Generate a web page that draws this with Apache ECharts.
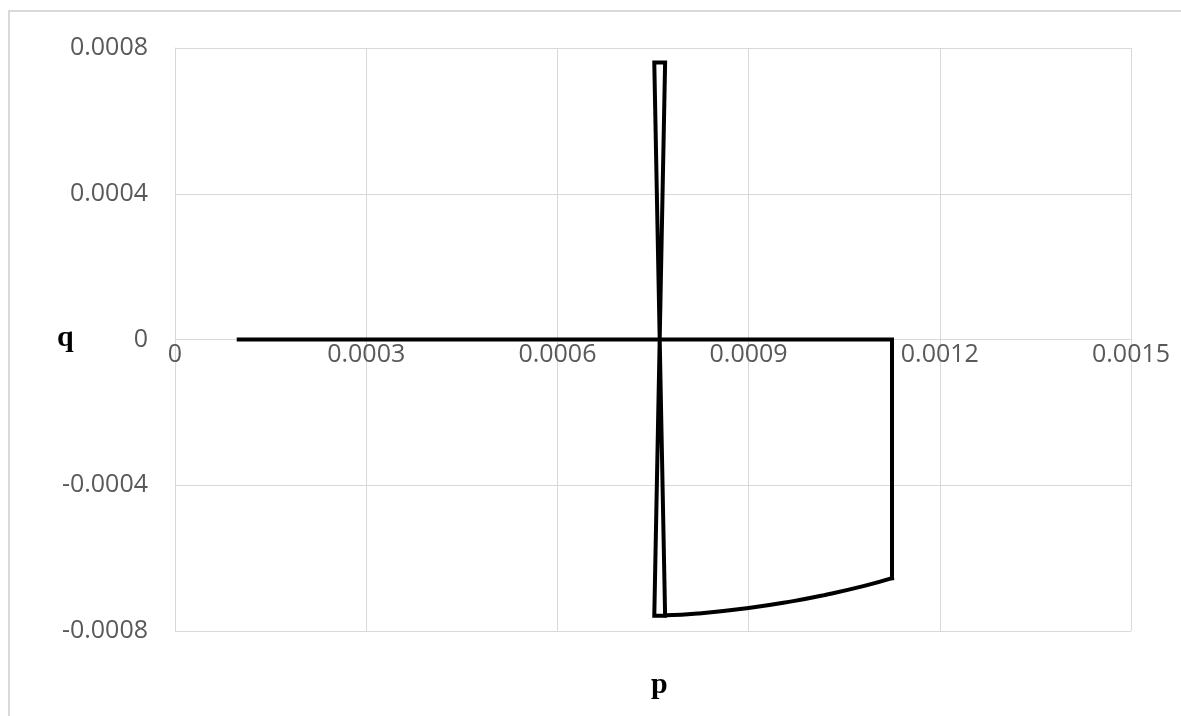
<!DOCTYPE html>
<html>
<head>
<meta charset="utf-8">
<script src="https://cdn.jsdelivr.net/npm/echarts@6/dist/echarts.min.js"></script>
<style>
  html, body { margin: 0; padding: 0; background: #ffffff; }
  #chart { width: 1181px; height: 716px; }
</style>
</head>
<body>
<div id="chart"></div>
<script>
// Horizontal branch and right edge of the (p, q) trajectory
const edgeP = [0.0001, 0.001125, 0.001125];
const edgeQ = [0, 0, -0.000655];
// Narrow crossed loop of the two near-vertical strokes
const loopP = [0.000769, 0.000752, 0.000769, 0.000752, 0.000769];
const loopQ = [-0.000757, 0.00076, 0.00076, -0.000758, -0.000758];
// Curved lower branch, from the right edge back to the vertical strokes
const curveP = [0.001125, 0.00108, 0.00102, 0.00097, 0.0009, 0.00082, 0.000769];
const curveQ = [-0.000655, -0.000677, -0.000701, -0.000718, -0.000737, -0.000752, -0.000757];

const xTicks = ['0', '0.0003', '0.0006', '0.0009', '0.0012', '0.0015'];
const yTicks = ['-0.0008', '-0.0004', '0', '0.0004', '0.0008'];

const xMin = 0, xMax = 0.0015, xInterval = 0.0003;
const yMin = -0.0008, yMax = 0.0008, yInterval = 0.0004;

const pairs = (ps, qs) => ps.map((p, i) => [p, qs[i]]);

const W = 1181, H = 716;
const grid = { left: 175, right: 50, top: 48, bottom: 85 };
const plotH = H - grid.top - grid.bottom;
// lift the category axis so it crosses the q axis at q = 0
const xAxisOffset = -plotH * (0 - yMin) / (yMax - yMin);

const chart = echarts.init(document.getElementById('chart'));
const labelFont = '"Open Sans", "Liberation Sans", sans-serif';
const nameFont = 'bold 30px "Liberation Serif", "DejaVu Serif", serif';
const stroke = { color: '#000000', width: 4, join: 'miter', cap: 'square' };

chart.setOption({
  animation: false,
  backgroundColor: '#ffffff',
  grid: Object.assign({ containLabel: false }, grid),
  xAxis: {
    type: 'value',
    position: 'bottom',
    offset: xAxisOffset,
    min: xMin, max: xMax, interval: xInterval,
    axisLine: { onZero: false, lineStyle: { color: '#d9d9d9', width: 1 } },
    axisTick: { show: false },
    splitLine: { lineStyle: { color: '#d9d9d9', width: 1 } },
    axisLabel: {
      color: '#595959', fontSize: 25, fontFamily: labelFont, margin: 3,
      formatter: v => xTicks[Math.round((v - xMin) / xInterval)]
    }
  },
  yAxis: {
    type: 'value',
    min: yMin, max: yMax, interval: yInterval,
    axisLine: { show: true, onZero: false, lineStyle: { color: '#d9d9d9', width: 1 } },
    axisTick: { show: false },
    splitLine: { lineStyle: { color: '#d9d9d9', width: 1 } },
    axisLabel: {
      color: '#595959', fontSize: 25, fontFamily: labelFont, margin: 27,
      formatter: v => yTicks[Math.round((v - yMin) / yInterval)]
    }
  },
  graphic: [
    {
      type: 'rect', silent: true, z: -1,
      shape: { x: 9, y: 11, width: 1300, height: 800 },
      style: { fill: 'none', stroke: '#d9d9d9', lineWidth: 2 }
    },
    {
      type: 'text', x: 57, y: 353,
      style: { text: 'q', font: nameFont, fill: '#000000', verticalAlign: 'bottom' }
    },
    {
      type: 'text', x: 651, y: 700,
      style: { text: 'p', font: nameFont, fill: '#000000', verticalAlign: 'bottom' }
    }
  ],
  series: [
    { type: 'line', data: pairs(edgeP, edgeQ), showSymbol: false, lineStyle: stroke, z: 5 },
    { type: 'line', data: pairs(loopP, loopQ), showSymbol: false, lineStyle: stroke, z: 5 },
    { type: 'line', data: pairs(curveP, curveQ), showSymbol: false, smooth: true, lineStyle: stroke, z: 5 }
  ]
});
</script>
</body>
</html>
